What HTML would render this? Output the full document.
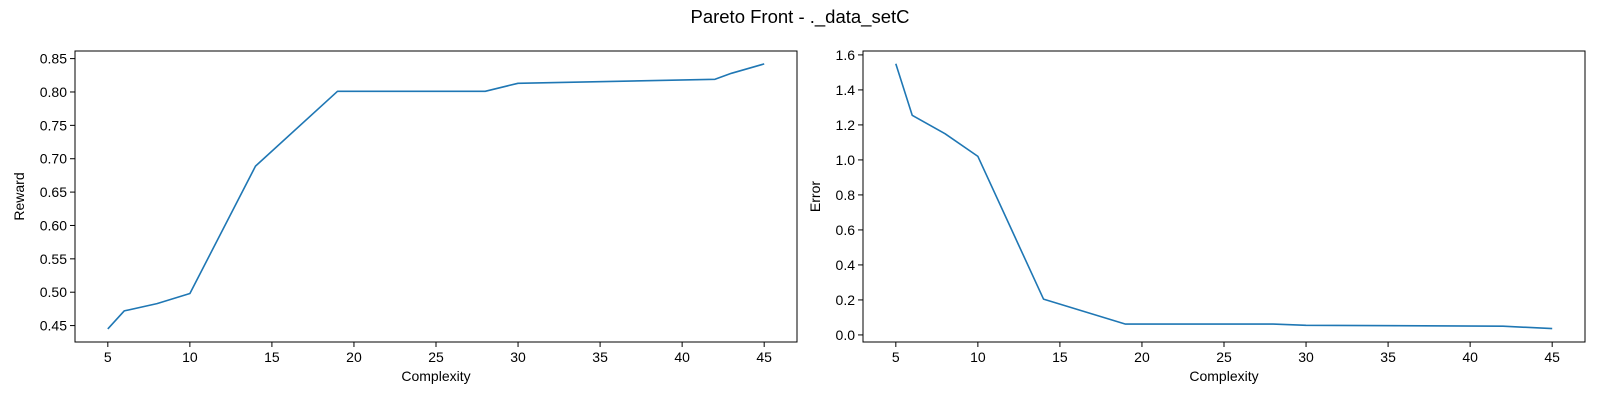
<!DOCTYPE html>
<html><head><meta charset="utf-8"><style>
body{margin:0;background:#fff;}
svg{display:block;font-family:"Liberation Sans","DejaVu Sans",sans-serif;}
</style></head><body>
<svg id="fig" width="1600" height="400" xmlns="http://www.w3.org/2000/svg">
<text x="800" y="23" text-anchor="middle" font-size="18.5" fill="#000">Pareto Front - ._data_setC</text>
</svg>
<script>
const complexity = [5, 6, 8, 10, 14, 19, 28, 30, 42, 43, 45];
const reward = [0.445, 0.472, 0.483, 0.498, 0.689, 0.801, 0.801, 0.813, 0.819, 0.828, 0.842];
const errComplexity = [5, 6, 8, 10, 14, 19, 28, 30, 42, 45];
const errorVals = [1.55, 1.255, 1.15, 1.02, 0.205, 0.062, 0.062, 0.055, 0.05, 0.036];
const xTicks = [5, 10, 15, 20, 25, 30, 35, 40, 45];
const rewardTicks = [0.45, 0.50, 0.55, 0.60, 0.65, 0.70, 0.75, 0.80, 0.85];
const errorTicks = [0.0, 0.2, 0.4, 0.6, 0.8, 1.0, 1.2, 1.4, 1.6];

const NS = "http://www.w3.org/2000/svg";
const svg = document.getElementById('fig');
function mk(tag, attrs, parent){const e=document.createElementNS(NS,tag);for(const k in attrs)e.setAttribute(k,attrs[k]);(parent||svg).appendChild(e);return e;}

function panel(name, left, xs, ys, yTicks, yMin, yMax, yDec, ylabel){
  const top=51, bottom=342, right=left+722;
  const xMin=3, xMax=47;
  const sx=v=>left+(v-xMin)/(xMax-xMin)*(right-left);
  const sy=v=>bottom-(v-yMin)/(yMax-yMin)*(bottom-top);
  const g=mk('g',{});
  
  
  xTicks.forEach(t=>{
    const x=sx(t);
    const l=mk('line',{x1:x,x2:x,y1:bottom,y2:bottom+5,stroke:'#000','stroke-width':1},g);
    
    
    const tx=mk('text',{x:x,y:bottom+20,'text-anchor':'middle','font-size':14,fill:'#000'},g);
    tx.textContent=t;
    
    
  });
  yTicks.forEach(t=>{
    const y=sy(t);
    const l=mk('line',{x1:left-5,x2:left,y1:y,y2:y,stroke:'#000','stroke-width':1},g);
    
    
    const tx=mk('text',{x:left-8,y:y+5,'text-anchor':'end','font-size':14,fill:'#000'},g);
    tx.textContent=t.toFixed(yDec);
    
    
  });
  const pts=xs.map((x,i)=>sx(x).toFixed(1)+','+sy(ys[i]).toFixed(1)).join(' ');
  const line=mk('polyline',{points:pts,fill:'none',stroke:'#1f77b4','stroke-width':1.6,'stroke-linejoin':'round'},g);
  
  
  const frame=mk('rect',{x:left,y:top,width:right-left,height:bottom-top,fill:'none',stroke:'#000','stroke-width':1},g);
  
  
  const xl=mk('text',{x:(left+right)/2,y:381,'text-anchor':'middle','font-size':14,fill:'#000'},g);
  xl.textContent='Complexity';
  
  
  const yx=left-(yDec===2?51:43), yy=(top+bottom)/2;
  const yl=mk('text',{x:yx,y:yy,'text-anchor':'middle','font-size':14,fill:'#000',transform:`rotate(-90 ${yx} ${yy})`},g);
  yl.textContent=ylabel;
  
  
}
panel('reward', 75, complexity, reward, rewardTicks, 0.4254, 0.8614, 2, 'Reward');
panel('error', 863, errComplexity, errorVals, errorTicks, -0.0404, 1.6223, 1, 'Error');
</script>
</body></html>
